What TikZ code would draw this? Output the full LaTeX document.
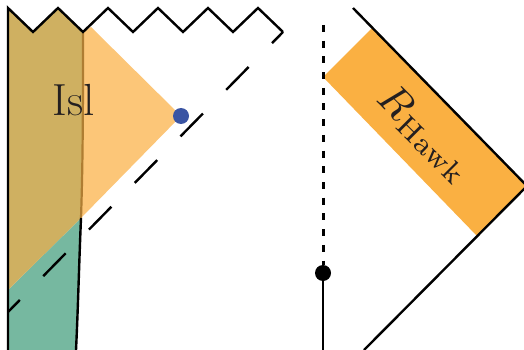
\documentclass[tikz,border=0pt]{standalone}
\usepackage{graphicx}
\usetikzlibrary{calc}
\definecolor{tanc}{RGB}{207,176,97}
\definecolor{lightor}{RGB}{252,198,120}
\definecolor{greenc}{RGB}{118,184,160}
\definecolor{hawk}{RGB}{250,176,66}
\definecolor{brownl}{RGB}{175,125,50}
\definecolor{dotblue}{RGB}{58,84,163}
\definecolor{inkc}{RGB}{35,31,32}
\tikzset{
  edge/.style={line width=2.4pt,line join=miter,black},
  longdash/.style={edge,dash pattern=on 32pt off 33.3pt,dash phase=16.3pt},
  shortdash/.style={edge,line width=3pt,dash pattern=on 7pt off 8.7pt},
  marker/.style={circle,inner sep=0pt,minimum size=16pt},
  lab/.style={text=inkc,inner sep=0pt}
}
\begin{document}
\begin{tikzpicture}[x=1pt,y=-1pt]
\useasboundingbox (0,0) rectangle (524,350);
% coordinates
\coordinate (zs) at (8,8);
\coordinate (zk) at (83,32);
\coordinate (ze) at (283,32);
\coordinate (de) at (8,312);
\coordinate (cm) at (81,218);
\coordinate (cb) at (76,350);
\coordinate (lb) at (8,350);
\coordinate (ap) at (91,27);
\coordinate (tip) at (181,116);
\coordinate (gl) at (8,290);
\coordinate (ht) at (353,8);
\coordinate (hr) at (527,186);
\coordinate (hb) at (364,350);
% regions
\fill[lightor] (zk) -- (ap) -- (tip) -- (cm) -- cycle;
\fill[greenc] (gl) -- (cm) .. controls (79,265) and (78,310) .. (cb) -- (lb) -- cycle;
\fill[tanc] (zs) -- (33,32) -- (58,8) -- (zk) .. controls (83,100) and (83,160) .. (cm) -- (gl) -- cycle;
\fill[hawk] (372,28) -- (hr) -- (477,236) -- (323,77) -- cycle;
% curve
\draw[line width=2.2pt,brownl] (zk) .. controls (83,100) and (83,160) .. (cm);
\draw[edge] (cm) .. controls (79,265) and (78,310) .. (cb);
% outlines
\draw[edge] (8,350) -- (zs) -- (33,32) -- (58,8) -- (zk) -- (108,8) -- (133,32) -- (158,8) -- (183,32) -- (208,8) -- (233,32) -- (258,8) -- (ze);
\draw[longdash] (ze) -- (de);
\draw[edge] (ht) -- (hr) -- (hb);
\node[marker,fill=black] (sing) at (323,273) {};
\coordinate (dt) at (323,25);
\draw[shortdash] (dt) -- (sing);
\draw[edge] (sing) -- (323,350);
\node[marker,fill=dotblue] (qes) at (181,116) {};
% labels
\node[lab,font=\fontsize{45}{45}\selectfont] (isl) at (73.5,100) {Isl};
\node[lab,rotate=-45] (rh) at (425,134) {\scalebox{4.2}{$R_{\mathrm{Hawk}}$}};
\end{tikzpicture}
\end{document}
